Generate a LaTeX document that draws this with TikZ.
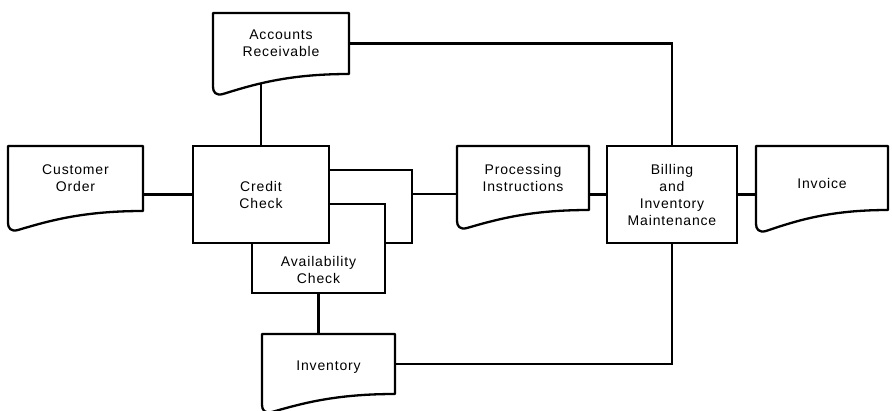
\documentclass[tikz,border=0pt]{standalone}
\usepackage{fontspec}
\setmainfont{Liberation Sans}[LetterSpace=6]
\usetikzlibrary{calc}
\tikzset{
  lbl/.style={inner sep=0pt, outer sep=0pt, align=center,
    font=\fontsize{14}{17}\selectfont},
  procbox/.style={lbl, draw, fill=white},
  docline/.style={draw, fill=white, line join=round},
  conn/.style={draw}
}
\newcommand{\docshape}[2]{%
  \path[docline] let \p1=(#1.north west), \p2=(#1.south east), \n1={\x2-\x1} in
   (\p1) -- (\x2,\y1) -- (\p2)
   .. controls ({\x2-0.44*\n1},\y2) and ({\x1+0.31*\n1},{\y2-0.5*#2}) .. ({\x1+10},{\y2-#2})
   .. controls ({\x1+3},{\y2-#2-2}) and (\x1,{\y2-#2+2}) .. (\x1,{\y2-#2+7}) -- cycle;}
\begin{document}
\begin{tikzpicture}[x=1pt, y=-1pt, line width=2.3pt]
\useasboundingbox (0,0) rectangle (892,410);
% process boxes
\node[procbox, minimum width=136pt, minimum height=97pt] (cc) at (261,194.5) {Credit\\Check};
\node[procbox, minimum width=130pt, minimum height=97pt] (bim) at (672,194.5) {Billing\\and\\Inventory\\Maintenance};
% document frames (rectangular part of each document symbol)
\node[lbl, minimum width=136pt, minimum height=61pt] (ar) at (281,43.5) {};
\node[lbl, minimum width=135pt, minimum height=65pt] (co) at (75.5,178.5) {};
\node[lbl, minimum width=132pt, minimum height=64pt] (pi) at (523,178) {};
\node[lbl, minimum width=132pt, minimum height=64pt] (inv) at (822,178) {};
\node[lbl, minimum width=133pt, minimum height=60pt] (invt) at (328.5,364) {};
\node[lbl, minimum width=133pt, minimum height=50pt] (av) at (318.5,268) {};
% connectors
\draw[conn] (cc.north) -- (cc.north |- ar.center);
\draw[conn] (ar.east) -| (bim.north);
\draw[conn] (co.east |- cc.west) -- (cc.west);
\coordinate (loopR) at (412,194);
\draw[conn] ([yshift=-24pt]cc.north east) -| (loopR) |- (av.north east);
\draw[conn] (loopR) -- (pi.west |- loopR);
\draw[conn] (pi.east |- bim.west) -- (bim.west);
\draw[conn] (bim.east) -- (inv.west |- bim.east);
\draw[conn] ([yshift=-58pt]cc.north east) -| (av.south east) -- (av.south west) -- (av.north west);
\draw[conn] (av.south) -- (av.south |- invt.north);
\draw[conn] (bim.south) |- (invt.east);
% document symbols
\docshape{ar}{20}
\docshape{co}{19}
\docshape{pi}{18}
\docshape{inv}{21}
\docshape{invt}{18}
% labels
\node[lbl] (arT) at (ar) {Accounts\\Receivable};
\node[lbl] (coT) at (co) {Customer\\Order};
\node[lbl] (piT) at (pi) {Processing\\Instructions};
\node[lbl] (invT) at ([yshift=-5pt]inv.center) {Invoice};
\node[lbl] (invtT) at ([yshift=-3pt]invt.center) {Inventory};
\node[lbl] (avT) at ([yshift=-2pt]av.center) {Availability\\Check};
\end{tikzpicture}
\end{document}
